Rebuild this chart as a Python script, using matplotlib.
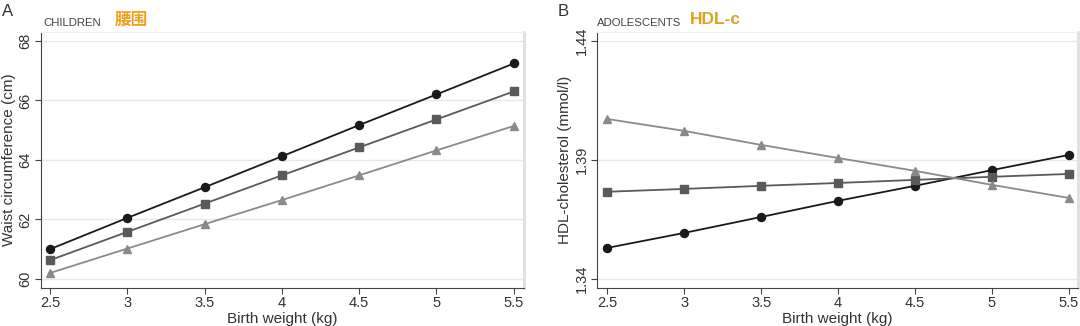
import numpy as np
import matplotlib
matplotlib.use('Agg')
import matplotlib.pyplot as plt

plt.rcParams['font.family'] = ['Liberation Sans', 'Noto Sans CJK SC', 'DejaVu Sans']

# 数据
birth_weight = [2.5, 3, 3.5, 4, 4.5, 5, 5.5]

waist_circle = [61.0, 62.05, 63.08, 64.12, 65.17, 66.2, 67.24]
waist_square = [60.63, 61.58, 62.53, 63.48, 64.42, 65.36, 66.3]
waist_triangle = [60.2, 61.02, 61.84, 62.65, 63.48, 64.32, 65.14]

hdl_circle = [1.3530, 1.3593, 1.3660, 1.3728, 1.3791, 1.3857, 1.3921]
hdl_square = [1.3766, 1.3778, 1.3791, 1.3803, 1.3816, 1.3829, 1.3841]
hdl_triangle = [1.4072, 1.4022, 1.3963, 1.3908, 1.3854, 1.3795, 1.3740]

x_ticks = [2.5, 3, 3.5, 4, 4.5, 5, 5.5]
x_ticklabels = ['2.5', '3', '3.5', '4', '4.5', '5', '5.5']
waist_ticks = [60, 62, 64, 66, 68]
hdl_ticks = [1.34, 1.39, 1.44]
hdl_ticklabels = ['1.34', '1.39', '1.44']

series_style = [
    ('o', '#1a1a1a'),
    ('s', '#5a5a5a'),
    ('^', '#8a8a8a'),
]

fig = plt.figure(figsize=(10.8, 3.26), dpi=100)
ax_a = fig.add_axes([0.038, 0.117, 0.447, 0.785])
ax_b = fig.add_axes([0.553, 0.117, 0.445, 0.785])


def style_axes(ax, yticks, yticklabels, ylabel):
    ax.set_xticks(x_ticks)
    ax.set_xticklabels(x_ticklabels, fontsize=10.5, color='#333333')
    ax.set_yticks(yticks)
    ax.set_yticklabels(yticklabels, fontsize=10.5, color='#333333',
                       rotation=90, va='center')
    ax.set_xlabel('Birth weight (kg)', fontsize=11, color='#333333', labelpad=1)
    ax.set_ylabel(ylabel, fontsize=11, color='#333333', labelpad=2)
    ax.grid(axis='y', color='#e8e8e8', linewidth=1)
    ax.set_axisbelow(True)
    ax.tick_params(direction='out', length=4, width=0.8, color='#444444', pad=2)
    ax.spines['left'].set_color('#444444')
    ax.spines['bottom'].set_color('#444444')
    ax.spines['top'].set_color('#eeeeee')
    ax.spines['right'].set_color('#e0e0e0')
    ax.spines['right'].set_linewidth(2)


# A: 儿童腰围
for vals, (mk, col) in zip([waist_circle, waist_square, waist_triangle], series_style):
    ax_a.plot(birth_weight, vals, marker=mk, color=col, markersize=5.8, linewidth=1.3)
ax_a.set_xlim(2.442, 5.565)
ax_a.set_ylim(59.7, 68.3)
style_axes(ax_a, waist_ticks, [str(t) for t in waist_ticks], 'Waist circumference (cm)')

# B: 青少年 HDL-c
for vals, (mk, col) in zip([hdl_circle, hdl_square, hdl_triangle], series_style):
    ax_b.plot(birth_weight, vals, marker=mk, color=col, markersize=5.8, linewidth=1.3)
ax_b.set_xlim(2.435, 5.558)
ax_b.set_ylim(1.3362, 1.4438)
style_axes(ax_b, hdl_ticks, hdl_ticklabels, 'HDL-cholesterol (mmol/l)')

# 面板标签和标题
fig.text(0.002, 0.965, 'A', fontsize=12, color='#333333', va='center')
fig.text(0.516, 0.965, 'B', fontsize=12, color='#333333', va='center')
fig.text(0.04, 0.93, 'CHILDREN', fontsize=8.2, color='#444444', va='center')
fig.text(0.106, 0.94, '腰围', fontsize=12, color='#f0a020', fontweight='bold',
         va='center', family=['Noto Sans CJK SC', 'DejaVu Sans'])
fig.text(0.553, 0.93, 'ADOLESCENTS', fontsize=8.2, color='#444444', va='center')
fig.text(0.639, 0.94, 'HDL-c', fontsize=12.5, color='#e0a020', fontweight='bold', va='center')

fig.savefig('out.png', dpi=100)
